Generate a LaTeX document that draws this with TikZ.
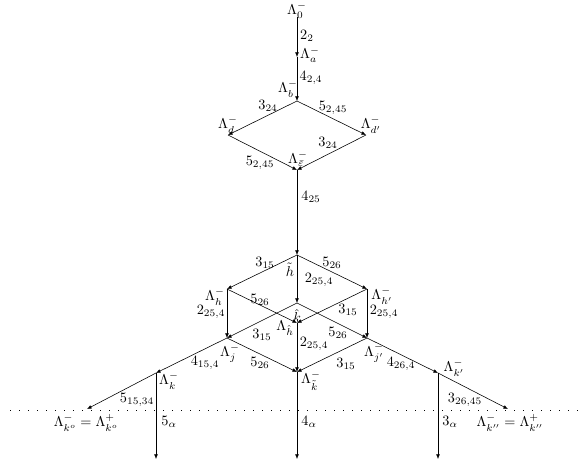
\documentclass[tikz,border=0pt]{standalone}
\usepackage{amsmath,amssymb}
\usetikzlibrary{arrows.meta}
\tikzset{
  % transition arrows between the strata
  trans/.style={-{Latex[length=3.2pt,width=2.6pt]}, line width=0.4pt},
  % text on the arrows and at the vertices
  lab/.style={inner sep=0pt},
  % the dotted level line
  levelln/.style={dash pattern=on 0.5pt off 5.8pt, line width=0.55pt},
}

\begin{document}
\begin{tikzpicture}[x=0.7pt, y=-0.7pt]
    \useasboundingbox (0,0) rectangle (581,465);
    % --- vertices ---
    \coordinate (L0) at (297,17);
    \coordinate (La) at (297,57);
    \coordinate (Lb) at (297,101);
    \coordinate (Ld) at (228,135);
    \coordinate (Ldp) at (366,135);
    \coordinate (Le) at (297,170);
    \coordinate (Ht) at (297,255);
    \coordinate (Lh) at (227,289);
    \coordinate (Lhp) at (367,289);
    \coordinate (Kh) at (297,303);
    \coordinate (Lhh) at (297,323);
    \coordinate (Lj) at (227,338);
    \coordinate (Ljp) at (367,338);
    \coordinate (Lkt) at (297,372);
    \coordinate (Lk) at (156,373);
    \coordinate (Lkp) at (438,373);
    \coordinate (Lko) at (87,409);
    \coordinate (Lkpp) at (508,409);
    \coordinate (Bk) at (156,459);
    \coordinate (Bkt) at (297,459);
    \coordinate (Bkp) at (438,459);
    \coordinate (DotL) at (10,410);
    \coordinate (DotR) at (578,410);
    % --- level line ---
    \draw[levelln] (DotL) -- (DotR);
    % --- top chain and diamond ---
    \draw[trans] (L0) -- (La);
    \draw[trans] (La) -- (Lb);
    \draw[trans] (Lb) -- (Ld);
    \draw[trans] (Lb) -- (Ldp);
    \draw[trans] (Ld) -- (Le);
    \draw[trans] (Ldp) -- (Le);
    \draw[trans] (Le) -- (Ht);
    % --- cube ---
    \draw[trans] (Ht) -- (Lh);
    \draw[trans] (Ht) -- (Lhp);
    \draw[trans] (Ht) -- (Kh);
    \draw[trans] (Lh) -- (Lhh);
    \draw[trans] (Lhp) -- (Lhh);
    \draw[trans] (Lh) -- (Lj);
    \draw[trans] (Lhp) -- (Ljp);
    \draw[trans] (Kh) -- (Lj);
    \draw[trans] (Kh) -- (Ljp);
    \draw[trans] (Lhh) -- (Lkt);
    \draw[trans] (Lj) -- (Lkt);
    \draw[trans] (Ljp) -- (Lkt);
    % --- outer branches ---
    \draw[trans] (Lj) -- (Lk);
    \draw[trans] (Ljp) -- (Lkp);
    \draw[trans] (Lk) -- (Lko);
    \draw[trans] (Lkp) -- (Lkpp);
    \draw[trans] (Lk) -- (Bk);
    \draw[trans] (Lkt) -- (Bkt);
    \draw[trans] (Lkp) -- (Bkp);
    % --- vertex labels ---
    \node[lab] (tL0) at (297,10) {$\Lambda_0^-$};
    \node[lab] (tLa) at (310,55) {$\Lambda_a^-$};
    \node[lab] (tLb) at (288,89) {$\Lambda_b^-$};
    \node[lab] (tLd) at (228,125) {$\Lambda_d^-$};
    \node[lab] (tLdp) at (371,125) {$\Lambda_{d'}^-$};
    \node[lab] (tLe) at (298,159) {$\Lambda_{\bar\varepsilon}^-$};
    \node[lab] (tHt) at (290,270) {$\tilde h$};
    \node[lab] (tLh) at (215,297) {$\Lambda_h^-$};
    \node[lab] (tLhp) at (382,296) {$\Lambda_{h'}^-$};
    \node[lab] (tKh) at (297,316) {$\hat k$};
    \node[lab] (tLhh) at (285,328) {$\Lambda_{\hat h}$};
    \node[lab] (tLj) at (230,353) {$\Lambda_j^-$};
    \node[lab] (tLjp) at (374,353) {$\Lambda_{j'}^-$};
    \node[lab] (tLkt) at (311,381) {$\Lambda_{\tilde k}^-$};
    \node[lab] (tLk) at (169,381) {$\Lambda_k^-$};
    \node[lab] (tLkp) at (454,368) {$\Lambda_{k'}^-$};
    \node[lab] (tLko) at (86,423) {$\Lambda_{k^o}^- = \Lambda_{k^o}^+$};
    \node[lab] (tLkpp) at (510,423) {$\Lambda_{k''}^- = \Lambda_{k''}^+$};
    % --- arrow labels ---
    \node[lab] (e0a) at (307,36) {$2_2$};
    \node[lab] (eab) at (311,78) {$4_{2,4}$};
    \node[lab] (ebd) at (268,106) {$3_{24}$};
    \node[lab] (ebdp) at (333,108) {$5_{2,45}$};
    \node[lab] (ede) at (260,163) {$5_{2,45}$};
    \node[lab] (edpe) at (328,143) {$3_{24}$};
    \node[lab] (eeh) at (311,197) {$4_{25}$};
    \node[lab] (ehh) at (265,263) {$3_{15}$};
    \node[lab] (ehhp) at (332,263) {$5_{26}$};
    \node[lab] (ehk) at (319,280) {$2_{25,4}$};
    \node[lab] (ehhh) at (260,300) {$5_{26}$};
    \node[lab] (ehphh) at (348,310) {$3_{15}$};
    \node[lab] (ehj) at (211,312) {$2_{25,4}$};
    \node[lab] (ehpjp) at (384,312) {$2_{25,4}$};
    \node[lab] (ekj) at (262,335) {$3_{15}$};
    \node[lab] (ekjp) at (338,333) {$5_{26}$};
    \node[lab] (ehhkt) at (314,344) {$2_{25,4}$};
    \node[lab] (ejkt) at (260,363) {$5_{26}$};
    \node[lab] (ejpkt) at (346,364) {$3_{15}$};
    \node[lab] (ejk) at (205,363) {$4_{15,4}$};
    \node[lab] (ejpkp) at (401,364) {$4_{26,4}$};
    \node[lab] (ekko) at (137,400) {$5_{15,34}$};
    \node[lab] (ekpkpp) at (465,400) {$3_{26,45}$};
    \node[lab] (ekb) at (169,422) {$5_\alpha$};
    \node[lab] (ektb) at (309,422) {$4_\alpha$};
    \node[lab] (ekpb) at (450,422) {$3_\alpha$};
\end{tikzpicture}
\end{document}
